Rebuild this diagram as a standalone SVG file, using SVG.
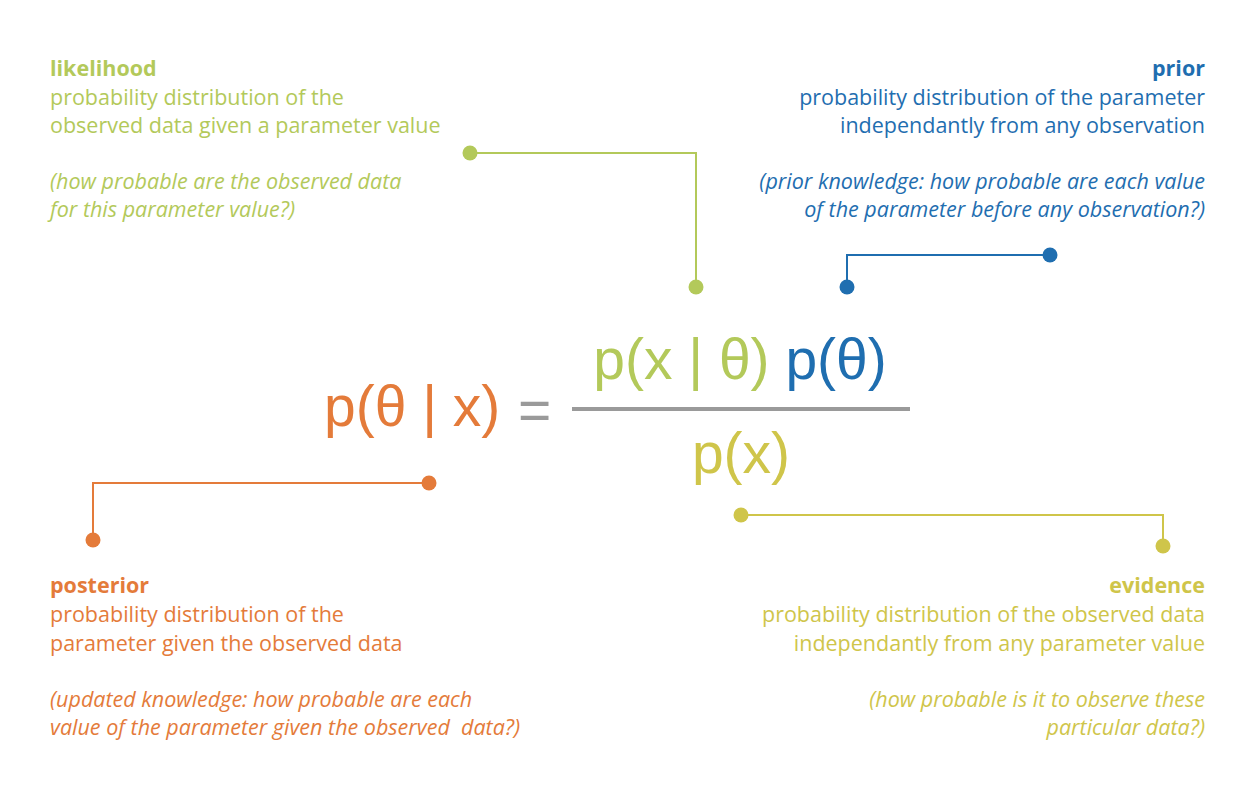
<svg xmlns="http://www.w3.org/2000/svg" width="1256" height="796" viewBox="0 0 1256 796">
<style>
.t{font-family:"Open Sans","Noto Sans","Liberation Sans",sans-serif;font-size:21.5px}
.h{font-weight:bold}
.i{font-style:italic}
.r{text-anchor:end}
.f{font-family:"Liberation Sans",Arial,sans-serif;font-size:57px}
.g{fill:#b3c95a}.b{fill:#1f6eb0}.o{fill:#e47b3a}.y{fill:#cfc54a}
.cg{stroke:#b3c95a}.cb{stroke:#1f6eb0}.co{stroke:#e47b3a}.cy{stroke:#cfc54a}
.c{fill:none;stroke-width:2}
</style>
<rect width="1256" height="796" fill="#fff"/>
<g id="formula">
<text class="f o" x="324" y="426">p(θ | x)</text>
<text class="f" x="518" y="430" fill="#9a9a9a">=</text>
<line x1="572" y1="409" x2="910" y2="409" stroke="#9a9a9a" stroke-width="4"/>
<text class="f" x="740" y="379" text-anchor="middle"><tspan class="g">p(x | θ)</tspan> <tspan class="b">p(θ)</tspan></text>
<text class="f y" x="741" y="473" text-anchor="middle">p(x)</text>
</g>
<g id="likelihood" class="t g">
<text class="h" x="50" y="76">likelihood</text>
<text x="50" y="105">probability distribution of the</text>
<text x="50" y="133">observed data given a parameter value</text>
<text class="i" x="50" y="189">(how probable are the observed data</text>
<text class="i" x="50" y="217">for this parameter value?)</text>
</g>
<g id="prior" class="t b r">
<text class="h" x="1205" y="76">prior</text>
<text x="1205" y="105">probability distribution of the parameter</text>
<text x="1205" y="133">independantly from any observation</text>
<text class="i" x="1205" y="189">(prior knowledge: how probable are each value</text>
<text class="i" x="1205" y="217">of the parameter before any observation?)</text>
</g>
<g id="posterior" class="t o">
<text class="h" x="50" y="593">posterior</text>
<text x="50" y="622">probability distribution of the</text>
<text x="50" y="651">parameter given the observed data</text>
<text class="i" x="50" y="707">(updated knowledge: how probable are each</text>
<text class="i" x="50" y="735" xml:space="preserve">value of the parameter given the observed  data?)</text>
</g>
<g id="evidence" class="t y r">
<text class="h" x="1205" y="593">evidence</text>
<text x="1205" y="622">probability distribution of the observed data</text>
<text x="1205" y="651">independantly from any parameter value</text>
<text class="i" x="1205" y="707">(how probable is it to observe these</text>
<text class="i" x="1205" y="735">particular data?)</text>
</g>
<g id="connectors">
<polyline class="c cg" points="470,153 696,153 696,287"/>
<circle class="g" cx="470" cy="153" r="7.5"/>
<circle class="g" cx="696" cy="287" r="7.5"/>
<polyline class="c cb" points="847,287 847,255 1050,255"/>
<circle class="b" cx="847" cy="287" r="7.5"/>
<circle class="b" cx="1050" cy="255" r="7.5"/>
<polyline class="c co" points="429,483 93,483 93,540"/>
<circle class="o" cx="429" cy="483" r="7.5"/>
<circle class="o" cx="93" cy="540" r="7.5"/>
<polyline class="c cy" points="741,515 1163,515 1163,546"/>
<circle class="y" cx="741" cy="515" r="7.5"/>
<circle class="y" cx="1163" cy="546" r="7.5"/>
</g>
</svg>
